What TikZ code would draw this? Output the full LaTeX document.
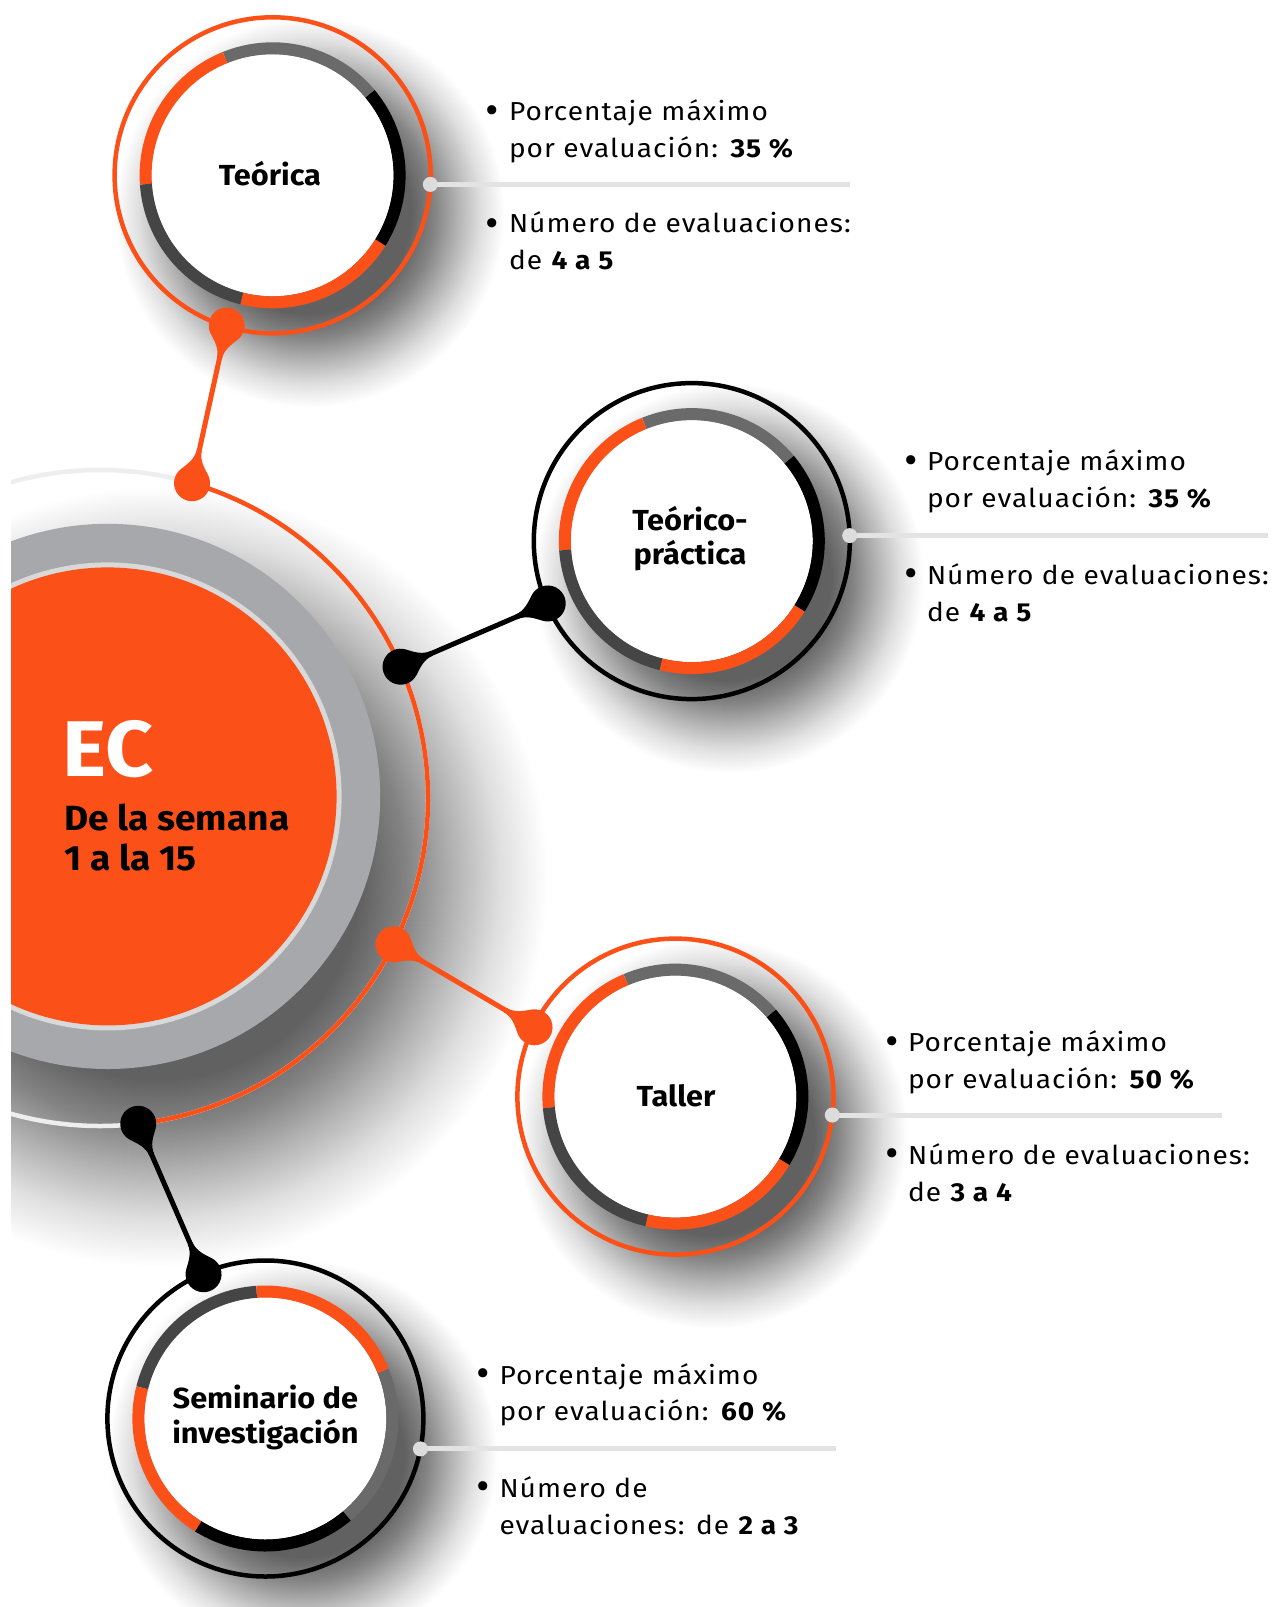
\documentclass[tikz,border=0pt]{standalone}
\usepackage{fontspec}
\setmainfont{Fira Sans}
\newfontfamily\dinb[FakeStretch=1.06]{Fira Sans}
\newfontfamily\dinr[FakeStretch=1.08, LetterSpace=4]{Fira Sans}
\usetikzlibrary{calc}
\definecolor{ecor}{HTML}{FB5119}
\definecolor{segg}{HTML}{6A6A6A}
\definecolor{segd}{HTML}{454545}
\definecolor{ringg}{HTML}{A7A8AB}
\definecolor{ringl}{HTML}{D9D9D9}
\definecolor{faint}{HTML}{EEEEEE}
\definecolor{sepc}{HTML}{E3E3E3}
\definecolor{dotc}{HTML}{DCDCDC}
\definecolor{shd}{HTML}{616161}
\pgfdeclareradialshading{softshadow}{\pgfpoint{0bp}{0bp}}{color(0bp)=(shd); color(13bp)=(shd); color(16bp)=(shd!78!white); color(19bp)=(shd!48!white); color(22bp)=(shd!20!white); color(25bp)=(white); color(50bp)=(white)}
\newcommand\tdrop[3]{%
  \pgfmathanglebetweenpoints{\pgfpointanchor{#1}{center}}{\pgfpointanchor{#2}{center}}%
  \let\tdang\pgfmathresult
  \fill[#3, shift={(#1)}, rotate=\tdang] (50:18) .. controls (17.7,8.7) and (24,2.5) .. (34,2.5) -- (34,-2.5) .. controls (24,-2.5) and (17.7,-8.7) .. (-50:18) arc[start angle=-50, end angle=-310, radius=18] -- cycle;%
}
\newcommand\badge[3]{%
  \draw[#2, line width=4.5bp] (#1) circle[radius=158];
  \fill[white] (#1) circle[radius=121];
  \foreach \c [count=\i from 0] in {black,segg,ecor,segd,ecor}{
    \draw[\c, line width=12bp] ($(#1)+({#3+72*\i}:127)$) arc[start angle={#3+72*\i}, delta angle=72, radius=127];
  }
}
\begin{document}
\begin{tikzpicture}[x=1bp,y=1bp,
  conn/.style={line width=5bp},
  sep/.style={sepc, line width=5bp},
  gdot/.style={fill=dotc, draw=none},
  btxt/.style={inner sep=0pt, outer sep=0pt, anchor=base west, align=left, font=\dinr\fontsize{26bp}{36.8bp}\selectfont},
  bul/.style={inner sep=0pt, outer sep=0pt, anchor=base, font=\bfseries\fontsize{33bp}{36bp}\selectfont},
  lbl/.style={inner sep=0pt, outer sep=0pt, anchor=base, align=center, font=\dinb\bfseries\fontsize{29bp}{34.5bp}\selectfont}]
\useasboundingbox (0,0) rectangle (1277,-1607);
\fill[white] (0,0) rectangle (1277,-1607);

\coordinate (EC) at (107.6,-796.4);
\coordinate (ECr) at (100,-798);
\coordinate (T) at (272.6,-175.3);
\coordinate (TP) at (691.8,-541.1);
\coordinate (TA) at (675.4,-1096.6);
\coordinate (SE) at (265.4,-1418.5);

% shadows
\begin{scope}
\clip (11,0) rectangle (1277,-1607);
\shade[shading=softshadow] ($(EC)+(50,-80)$) circle[radius=390];
\end{scope}
\shade[shading=softshadow] ($(T)+(37,-37)$) circle[radius=195];
\shade[shading=softshadow] ($(TP)+(37,-37)$) circle[radius=195];
\shade[shading=softshadow] ($(TA)+(37,-37)$) circle[radius=195];
\shade[shading=softshadow] ($(SE)+(37,-37)$) circle[radius=195];

% central EC element
\begin{scope}
\clip (11,0) rectangle (1277,-1607);
\draw[faint, line width=4.5bp] (ECr) circle[radius=328];
\draw[ecor, line width=4.5bp] ($(ECr)+(-83.3:328)$) arc[start angle=-83.3, end angle=73.7, radius=328];
\fill[ringg] (EC) circle[radius=272.6];
\fill[ringl] (EC) circle[radius=234];
\fill[ecor] (EC) circle[radius=229];
\end{scope}

% dots on rings
\coordinate (e1) at ($(ECr)+(73.7:328)$);
\coordinate (e2) at ($(ECr)+(23.6:328)$);
\coordinate (e3) at ($(ECr)+(-26.5:328)$);
\coordinate (e4) at ($(ECr)+(-83.3:328)$);
\coordinate (t1) at ($(T)+(-107:157)$);
\coordinate (tp1) at ($(TP)+(203.4:157)$);
\coordinate (ta1) at ($(TA)+(153.8:157)$);
\coordinate (s1) at ($(SE)+(113.2:157)$);

% badges
\badge{T}{ecor}{-32}
\badge{TP}{black}{-32}
\badge{TA}{ecor}{-31}
\badge{SE}{black}{-122}

% connectors
\draw[conn, ecor] (t1) -- (e1);
\draw[conn, black] (tp1) -- (e2);
\draw[conn, ecor] (ta1) -- (e3);
\draw[conn, black] (s1) -- (e4);
\tdrop{t1}{e1}{ecor}\tdrop{e1}{t1}{ecor}
\tdrop{tp1}{e2}{black}\tdrop{e2}{tp1}{black}
\tdrop{ta1}{e3}{ecor}\tdrop{e3}{ta1}{ecor}
\tdrop{s1}{e4}{black}\tdrop{e4}{s1}{black}

% separators
\coordinate (g1) at ($(T)+(-3.3:158)$);
\coordinate (g2) at ($(TP)+(2:158)$);
\coordinate (g3) at ($(TA)+(-6.7:158)$);
\coordinate (g4) at ($(SE)+(-11.1:158)$);
\coordinate (h1) at (850,0|-g1);
\coordinate (h2) at (1268,0|-g2);
\coordinate (h3) at (1222,0|-g3);
\coordinate (h4) at (836,0|-g4);
\draw[sep] (g1) -- (h1);
\draw[sep] (g2) -- (h2);
\draw[sep] (g3) -- (h3);
\draw[sep] (g4) -- (h4);
\fill[gdot] (g1) circle[radius=7.5];
\fill[gdot] (g2) circle[radius=7.5];
\fill[gdot] (g3) circle[radius=7.5];
\fill[gdot] (g4) circle[radius=7.5];

% centre texts
\node[inner sep=0pt, anchor=base west, text=white, font=\dinb\bfseries\fontsize{79bp}{79bp}\selectfont] (ect) at (62,-776) {EC};
\node[inner sep=0pt, anchor=base west, align=left, font=\dinb\bfseries\fontsize{35bp}{40bp}\selectfont] (ecs) at (64,-870) {De la semana\\1 a la 15};

% badge labels
\node[lbl] (lt) at (270,-185) {Teórica};
\node[lbl] (ltp) at (690,-564.5) {Teórico-\\práctica};
\node[lbl] (lta) at (676,-1106.7) {Taller};
\node[lbl] (lse) at (265.4,-1443) {Seminario de\\investigación};

% bullet texts (anchored at the baseline of their last line)
\node[bul] (b1a) at (492,-121.5) {•};
\node[btxt] (x1a) at (509,-157.3) {Porcentaje máximo\\por evaluación: \textbf{35 \%}};
\node[bul] (b1b) at (492,-234.5) {•};
\node[btxt] (x1b) at (509,-269.3) {Número de evaluaciones:\\de \textbf{4 a 5}};

\node[bul] (b2a) at (911,-471.5) {•};
\node[btxt] (x2a) at (927,-507.7) {Porcentaje máximo\\por evaluación: \textbf{35 \%}};
\node[bul] (b2b) at (911,-584.5) {•};
\node[btxt] (x2b) at (927,-621) {Número de evaluaciones:\\de \textbf{4 a 5}};

\node[bul] (b3a) at (892,-1052.5) {•};
\node[btxt] (x3a) at (908,-1088.3) {Porcentaje máximo\\por evaluación: \textbf{50 \%}};
\node[bul] (b3b) at (892,-1164.5) {•};
\node[btxt] (x3b) at (908,-1201) {Número de evaluaciones:\\de \textbf{3 a 4}};

\node[bul] (b4a) at (483,-1384.5) {•};
\node[btxt] (x4a) at (499.5,-1420.8) {Porcentaje máximo\\por evaluación: \textbf{60 \%}};
\node[bul] (b4b) at (483,-1497.5) {•};
\node[btxt] (x4b) at (499.5,-1534) {Número de\\evaluaciones: de \textbf{2 a 3}};
\end{tikzpicture}
\end{document}
